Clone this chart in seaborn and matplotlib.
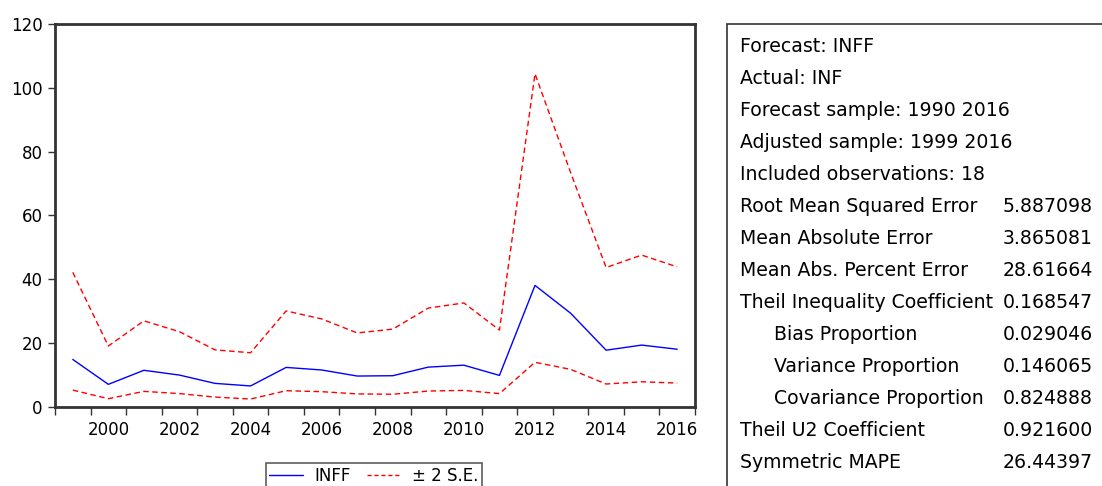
import matplotlib
matplotlib.use("Agg")
import matplotlib.pyplot as plt
from matplotlib.lines import Line2D
from matplotlib.patches import Rectangle
import seaborn as sns
import numpy as np

years = list(range(1999, 2017))
inff = [14.9, 7.1, 11.5, 10.0, 7.4, 6.6, 12.4, 11.6, 9.7, 9.8,
        12.5, 13.1, 9.9, 38.1, 29.4, 17.8, 19.4, 18.1]
upper_se = [42.2, 19.1, 27.0, 23.6, 17.9, 17.0, 30.1, 27.6, 23.2, 24.4,
            31.0, 32.6, 24.1, 104.4, 73.5, 43.7, 47.6, 43.9]
lower_se = [5.3, 2.6, 4.9, 4.2, 3.1, 2.5, 5.1, 4.8, 4.1, 4.0,
            5.0, 5.2, 4.2, 14.0, 11.8, 7.2, 7.9, 7.5]

stat_labels = ["Forecast: INFF", "Actual: INF", "Forecast sample: 1990 2016",
               "Adjusted sample: 1999 2016", "Included observations: 18",
               "Root Mean Squared Error", "Mean Absolute Error",
               "Mean Abs. Percent Error", "Theil Inequality Coefficient",
               "Bias Proportion", "Variance Proportion", "Covariance Proportion",
               "Theil U2 Coefficient", "Symmetric MAPE"]
stat_values = ["", "", "", "", "", "5.887098", "3.865081", "28.61664",
               "0.168547", "0.029046", "0.146065", "0.824888", "0.921600",
               "26.44397"]
indented = {"Bias Proportion", "Variance Proportion", "Covariance Proportion"}

sns.set_style("white")
plt.rcParams["font.family"] = ["DejaVu Sans"]
plt.rcParams["text.color"] = "black"
plt.rcParams["xtick.labelcolor"] = "black"
plt.rcParams["ytick.labelcolor"] = "black"

W, H = 1102, 486
fig = plt.figure(figsize=(W / 100, H / 100), dpi=100)
ax = fig.add_axes([55 / W, (H - 407) / H, 640 / W, 383 / H])

dash = (4, 2.5)
sns.lineplot(x=years, y=inff, ax=ax, color="blue", lw=1)
sns.lineplot(x=years, y=upper_se, ax=ax, color="red", lw=1, dashes=False,
             linestyle=(0, dash))
sns.lineplot(x=years, y=lower_se, ax=ax, color="red", lw=1, dashes=False,
             linestyle=(0, dash))

ax.set_xlim(1998.5, 2016.5)
ax.set_ylim(0, 120)
ax.set_yticks(np.arange(0, 121, 20))
ax.set_xticks(range(2000, 2017, 2))
ax.set_xticks(np.arange(1998.5, 2017, 1), minor=True)
ax.tick_params(axis="x", which="major", length=0, labelsize=12, pad=10)
ax.tick_params(axis="x", which="minor", length=6, width=1, color="#333333",
               direction="out", bottom=True)
ax.tick_params(axis="y", length=5, width=1, color="#333333", labelsize=12,
               left=True, pad=4)
for s in ax.spines.values():
    s.set_color("#333333")
    s.set_linewidth(2)

handles = [Line2D([], [], color="blue", lw=1),
           Line2D([], [], color="red", lw=1, linestyle=(0, (3, 2)))]
leg = fig.legend(handles, ["INFF", "\u00b1 2 S.E."], loc="upper center",
                 bbox_to_anchor=(374 / W, 1 - 463 / H), ncol=2, fontsize=12,
                 frameon=True, fancybox=False, edgecolor="#333333",
                 handlelength=2.0, handletextpad=0.7, columnspacing=1.0,
                 borderpad=0.22, borderaxespad=0)
leg.get_frame().set_linewidth(1.2)

# statistics box on the right
fig.patches.append(Rectangle((727 / W, -0.1), 0.5, 1 - 24 / H + 0.1,
                             transform=fig.transFigure, fill=False,
                             edgecolor="#333333", lw=1.2))
for i, (lab, val) in enumerate(zip(stat_labels, stat_values)):
    y = 1 - (46 + i * 32) / H
    x = 774 if lab in indented else 740
    fig.text(x / W, y, lab, fontsize=13.6, va="center", ha="left")
    if val:
        fig.text(1003 / W, y, val, fontsize=13.6, va="center", ha="left")

fig.savefig("out.png", dpi=100)
